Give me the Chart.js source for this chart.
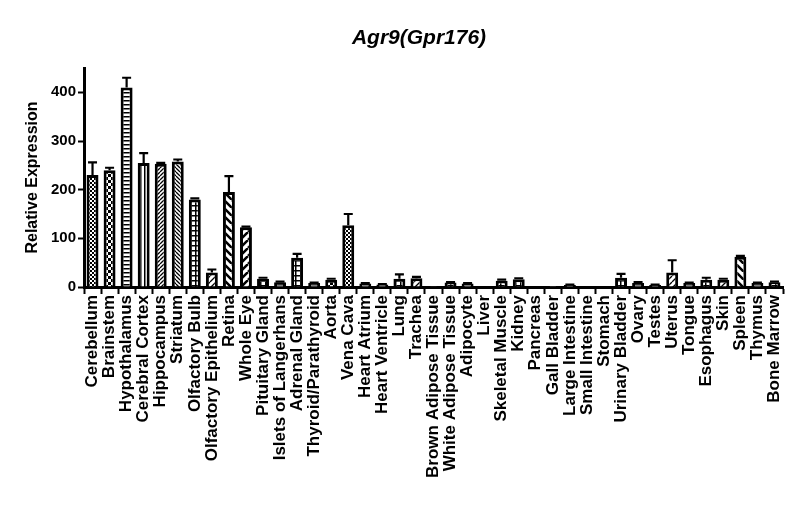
<!DOCTYPE html>
<html>
<head>
<meta charset="utf-8">
<script src="https://cdn.jsdelivr.net/npm/chart.js@4"></script>
<style>
  html, body { margin: 0; padding: 0; background: #fff; }
  #wrap { width: 800px; height: 528px; }
</style>
</head>
<body>
<div id="wrap"><canvas id="chart" width="800" height="528"></canvas></div>
<script>
// tissues along the x axis
const tissues = ['Cerebellum', 'Brainstem', 'Hypothalamus', 'Cerebral Cortex', 'Hippocampus', 'Striatum',
  'Olfactory Bulb', 'Olfactory Epithelium', 'Retina', 'Whole Eye', 'Pituitary Gland', 'Islets of Langerhans',
  'Adrenal Gland', 'Thyroid/Parathyroid', 'Aorta', 'Vena Cava', 'Heart Atrium', 'Heart Ventricle', 'Lung',
  'Trachea', 'Brown Adipose Tissue', 'White Adipose Tissue', 'Adipocyte', 'Liver', 'Skeletal Muscle', 'Kidney',
  'Pancreas', 'Gall Bladder', 'Large Intestine', 'Small Intestine', 'Stomach', 'Urinary Bladder', 'Ovary',
  'Testes', 'Uterus', 'Tongue', 'Esophagus', 'Skin', 'Spleen', 'Thymus', 'Bone Marrow'];

// mean relative expression and the upper error (SEM)
const expression = [230, 240, 410, 255, 253, 258, 180, 30, 195, 123, 17, 10, 60, 8, 15, 127, 7, 5, 17, 18,
  0.5, 9, 7, 0, 13, 16, 0, 2, 4, 0, 0, 19, 8, 4, 30, 8, 15, 15, 62, 8, 10];
const errors = [26, 5, 20, 20, 2, 4, 2, 6, 33, 1, 2, 1, 8, 1, 2, 23, 1, 1, 9, 3,
  0, 1, 1, 0, 2, 2, 0, 0, 1, 0, 0, 8, 2, 1, 25, 1, 4, 2, 2, 1, 1];

const yTicks = [0, 100, 200, 300, 400];

// fill pattern per bar (prism style hatching)
const fills = ['checkFine', 'checkBig', 'hline', 'vline', 'diagDense', 'adiagDense', 'grid', 'diag', 'adiagWide',
  'diagWide', 'grid', 'hline', 'grid', 'hline', 'checkBig', 'checkFine', 'hline', 'hline', 'grid', 'diag',
  'white', 'grid', 'hline', 'white', 'grid', 'grid', 'white', 'hline', 'hline', 'white', 'white', 'grid',
  'hline', 'hline', 'diag', 'hline', 'grid', 'diag', 'adiagWide', 'hline', 'grid'];

function makePattern(kind) {
  const sizes = { checkFine: 4, checkBig: 6, hline: 4, vline: 4, diagDense: 4, adiagDense: 4,
    grid: 5, diag: 6, diagWide: 8, adiagWide: 8, white: 4 };
  const s = sizes[kind];
  const c = document.createElement('canvas');
  c.width = s; c.height = s;
  const g = c.getContext('2d');
  g.fillStyle = '#fff';
  g.fillRect(0, 0, s, s);
  g.fillStyle = '#000';
  g.strokeStyle = '#000';
  if (kind === 'checkFine' || kind === 'checkBig') {
    const h = s / 2;
    g.fillRect(0, 0, h, h);
    g.fillRect(h, h, h, h);
  } else if (kind === 'hline') {
    g.fillRect(0, 0, s, 1.5);
  } else if (kind === 'vline') {
    g.fillRect(0, 0, 1.5, s);
  } else if (kind === 'grid') {
    g.fillRect(0, 0, s, 1.5);
    g.fillRect(0, 0, 1.5, s);
  } else if (kind !== 'white') {
    g.lineWidth = kind.endsWith('Wide') ? 2.5 : 1.3;
    const back = kind.startsWith('adiag');
    g.beginPath();
    for (let k = -1; k <= 1; k++) {
      if (back) {
        g.moveTo(k * s, 0); g.lineTo(k * s + s, s);
      } else {
        g.moveTo(k * s, s); g.lineTo(k * s + s, 0);
      }
    }
    g.stroke();
  }
  return g.createPattern(c, 'repeat');
}

const font = 'Liberation Sans, Arial, sans-serif';

const errorBars = {
  id: 'errorBars',
  afterDatasetsDraw(chart) {
    const ctx = chart.ctx;
    const y = chart.scales.y;
    const meta = chart.getDatasetMeta(0);
    ctx.save();
    ctx.strokeStyle = '#000';
    ctx.lineWidth = 2.2;
    meta.data.forEach((bar, i) => {
      if (!errors[i]) return;
      const top = y.getPixelForValue(expression[i] + errors[i]);
      ctx.beginPath();
      ctx.moveTo(bar.x, bar.y);
      ctx.lineTo(bar.x, top);
      ctx.moveTo(bar.x - 4.5, top);
      ctx.lineTo(bar.x + 4.5, top);
      ctx.stroke();
    });
    ctx.restore();
  }
};

// title sits a bit right of the canvas centre, as in the original figure
const chartTitle = {
  id: 'chartTitle',
  afterDraw(chart) {
    const ctx = chart.ctx;
    ctx.save();
    ctx.fillStyle = '#000';
    ctx.font = 'italic bold 21px ' + font;
    ctx.textAlign = 'center';
    ctx.textBaseline = 'alphabetic';
    ctx.fillText('Agr9(Gpr176)', 419, 44);
    ctx.restore();
  }
};

new Chart(document.getElementById('chart'), {
  type: 'bar',
  data: {
    labels: tissues,
    datasets: [{
      data: expression,
      backgroundColor: fills.map(makePattern),
      borderColor: '#000',
      borderWidth: 3,
      barPercentage: 0.7,
      categoryPercentage: 1
    }]
  },
  options: {
    responsive: false,
    animation: false,
    devicePixelRatio: 1,
    layout: { padding: { left: 0, right: 17, top: 68, bottom: 0 } },
    plugins: {
      legend: { display: false },
      tooltip: { enabled: false },
      title: { display: false }
    },
    scales: {
      x: {
        grid: { display: true, drawOnChartArea: false, drawTicks: true, tickLength: 7, tickWidth: 2, tickColor: '#000' },
        border: { display: true, color: '#000', width: 3 },
        ticks: {
          autoSkip: false,
          minRotation: 90,
          maxRotation: 90,
          padding: 1,
          color: '#000',
          font: { family: font, size: 17, weight: 'bold' }
        },
        afterFit(scale) { scale.height = 241; }
      },
      y: {
        min: 0,
        max: 450,
        grid: { display: true, drawOnChartArea: false, drawTicks: true, tickLength: 6, tickWidth: 2, tickColor: '#000' },
        border: { display: true, color: '#000', width: 3 },
        afterBuildTicks(scale) { scale.ticks = yTicks.map(v => ({ value: v })); },
        ticks: {
          padding: 2,
          color: '#000',
          font: { family: font, size: 15, weight: 'bold' }
        },
        title: {
          display: true,
          text: 'Relative Expression',
          color: '#000',
          font: { family: font, size: 16, weight: 'bold' },
          padding: { top: 23, bottom: 0 }
        },
        afterFit(scale) { scale.width = 84; }
      }
    }
  },
  plugins: [errorBars, chartTitle]
});
</script>
</body>
</html>
